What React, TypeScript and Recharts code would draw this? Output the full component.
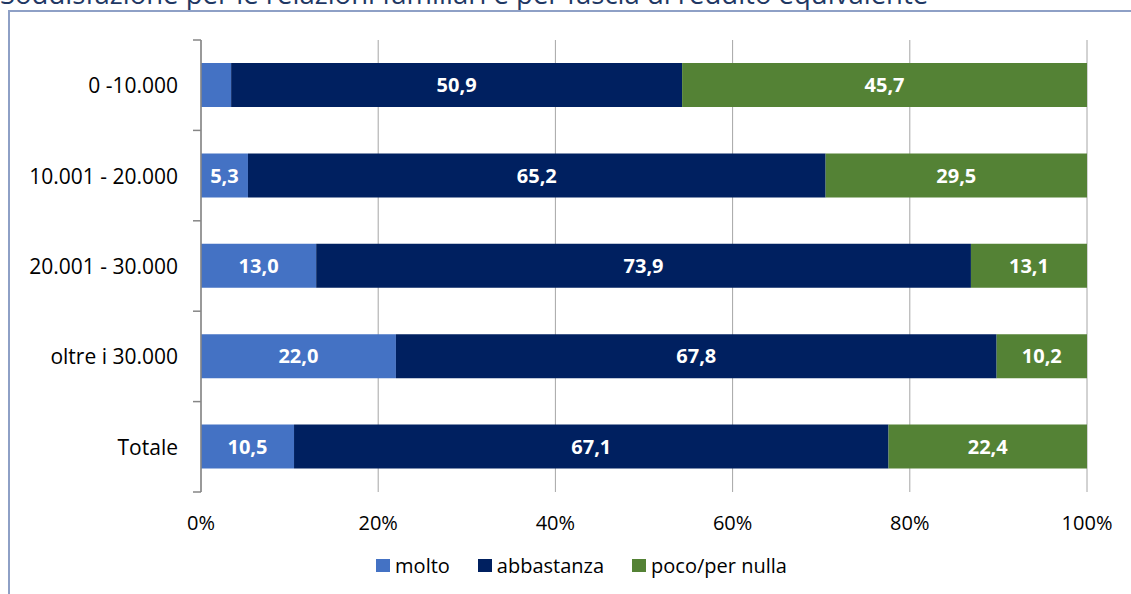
import React from 'react';
import { BarChart, Bar, XAxis, YAxis, CartesianGrid, Legend, LabelList } from 'recharts';

// fasce di reddito equivalente
const fasce = ['0 -10.000', '10.001 - 20.000', '20.001 - 30.000', 'oltre i 30.000', 'Totale'];
const molto = [3.4, 5.3, 13.0, 22.0, 10.5];
const abbastanza = [50.9, 65.2, 73.9, 67.8, 67.1];
const pocoNulla = [45.7, 29.5, 13.1, 10.2, 22.4];
const xTicks = [0, 20, 40, 60, 80, 100];

const series = [
  { key: 'molto', name: 'molto', color: '#4472C4' },
  { key: 'abbastanza', name: 'abbastanza', color: '#002060' },
  { key: 'poco', name: 'poco/per nulla', color: '#548235' },
];

const data = fasce.map((f, i) => ({
  fascia: f,
  molto: molto[i],
  abbastanza: abbastanza[i],
  poco: pocoNulla[i],
}));

const FONT = '"Open Sans", "Noto Sans", sans-serif';

const fmt = (v: any) => (Number(v) < 5 ? '' : Number(v).toFixed(1).replace('.', ','));

const YTick = (props: any) => {
  const { x, y, payload, index } = props;
  const axisX = x + 23;
  const half = payload?.offset || 45;
  return (
    <g>
      <text x={x} y={y} textAnchor="end" dominantBaseline="central" fontSize={21} fill="#000" fontFamily={FONT}>
        {payload.value}
      </text>
      <line x1={axisX - 8} x2={axisX} y1={y - half} y2={y - half} stroke="#868686" strokeWidth={1.5} />
      {index === fasce.length - 1 && (
        <line x1={axisX - 8} x2={axisX} y1={y + half} y2={y + half} stroke="#868686" strokeWidth={1.5} />
      )}
    </g>
  );
};

const LegendContent = () => (
  <div style={{ display: 'flex', justifyContent: 'center', alignItems: 'center', fontFamily: FONT, fontSize: 20, color: '#000' }}>
    {series.map((s, i) => (
      <div key={s.key} style={{ display: 'flex', alignItems: 'center', marginLeft: i === 0 ? 0 : 28 }}>
        <span style={{ width: 14, height: 13, background: s.color, display: 'inline-block', marginRight: 5 }} />
        <span>{s.name}</span>
      </div>
    ))}
  </div>
);

export default function App() {
  return (
    <div style={{ position: 'absolute', left: 0, top: 0, width: 1131, height: 594, overflow: 'hidden', background: '#fff' }}>
      <div style={{ position: 'absolute', left: 0, top: -20, fontFamily: FONT, fontSize: 27.5, lineHeight: '27.5px', color: '#1F3864', whiteSpace: 'nowrap' }}>
        Soddisfazione per le relazioni familiari e per fascia di reddito equivalente
      </div>
      <div style={{ position: 'absolute', left: 8, top: 10, width: 1300, height: 800, borderTop: '2px solid #8EA0C6', borderLeft: '2px solid #8EA0C6' }} />
      <div style={{ position: 'absolute', left: 0, top: 0 }}>
        <BarChart
          width={1131}
          height={594}
          data={data}
          layout="vertical"
          margin={{ top: 40, right: 44, left: 8, bottom: 72 }}
        >
          <CartesianGrid horizontal={false} stroke="#A6A6A6" />
          <XAxis
            type="number"
            domain={[0, 100]}
            ticks={xTicks}
            tickFormatter={v => `${v}%`}
            axisLine={false}
            tickLine={false}
            tickMargin={18}
            height={30}
            tick={{ fontSize: 20, fill: '#000', fontFamily: FONT }}
          />
          <YAxis
            type="category"
            dataKey="fascia"
            width={193}
            tickLine={false}
            tickMargin={17}
            axisLine={{ stroke: '#868686', strokeWidth: 1.5 }}
            tick={<YTick />}
          />
          <Legend
            layout="horizontal"
            verticalAlign="middle"
            align="center"
            wrapperStyle={{ top: 552, left: 16, width: 1131 }}
            content={<LegendContent />}
          />
          {series.map(s => (
            <Bar key={s.key} dataKey={s.key} name={s.name} stackId="a" fill={s.color} barSize={44} isAnimationActive={false}>
              <LabelList
                dataKey={s.key}
                position="center"
                formatter={fmt}
                fill="#fff"
                fontSize={20}
                fontWeight="bold"
                fontFamily={FONT}
              />
            </Bar>
          ))}
        </BarChart>
      </div>
    </div>
  );
}
